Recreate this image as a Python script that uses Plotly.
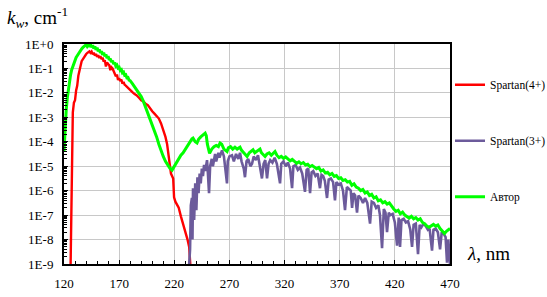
import plotly.graph_objects as go

# ---------------- data (log10 of k_w) ----------------
red_wl = [126, 126.5, 127, 127.5, 128, 129, 130, 131, 132, 133, 134, 135, 136, 137, 138, 139,
          140, 141, 142, 143, 144, 145, 146, 147, 148, 149, 150, 151, 152, 153, 154, 155,
          156, 157, 158, 159, 160, 161, 162, 163, 164, 165, 166, 167, 168, 169, 170, 171,
          172, 173, 174, 175, 176, 178, 180, 182, 184, 186, 188, 190, 192, 194, 196, 198,
          200, 202, 204, 206, 208, 210, 212, 213.5, 215, 217, 219, 219.8, 221, 224, 226, 229,
          232, 233.5, 234.5]
red_log = [-9.0, -7.5, -5.5, -3.8, -2.8, -2.4, -2.3, -1.9, -1.7, -1.3, -1.0, -0.9, -0.7, -0.62, -0.52, -0.47,
           -0.42, -0.37, -0.34, -0.3, -0.36, -0.31, -0.42, -0.36, -0.47, -0.41, -0.52, -0.46, -0.57, -0.5, -0.62, -0.56,
           -0.72, -0.66, -0.92, -0.76, -0.82, -0.86, -1.07, -0.95, -1.0, -1.1, -1.15, -1.32, -1.25, -1.47, -1.4, -1.52,
           -1.45, -1.62, -1.55, -1.67, -1.7, -1.8, -1.88, -1.97, -2.05, -2.1, -2.2, -2.3, -2.35, -2.45, -2.5, -2.65,
           -2.75, -2.85, -2.95, -3.05, -3.25, -3.5, -3.8, -4.1, -4.6, -5.3, -5.5, -6.27, -6.45, -6.7, -7.05, -7.5,
           -8.0, -8.3, -9.0]

purple_wl = [233.5, 234.3, 235, 236, 236.5, 237, 238, 239, 240, 241, 242, 243, 244, 245, 246, 247,
             248, 249.7, 250.5, 251.5, 252.5, 254, 255, 257, 258, 260, 261, 263.3, 265, 266, 267.8, 268.5,
             270, 272.3, 274, 276, 278, 279.6, 281, 283, 284.1, 285.5, 287, 289, 290.5, 292, 294, 295.9,
             297, 298, 299.5, 301, 302.5, 304.1, 305.5, 307, 309, 311, 313, 315.9, 317, 319, 321, 323,
             325, 326.8, 328, 330, 332, 334, 336, 338.5, 340, 341.5, 343.1, 344.5, 346, 348, 350, 352.1,
             353.5, 355, 356.5, 358.5, 360, 362, 364, 365.7, 367, 369, 371, 373, 374.8, 376.5, 378, 380,
             381.2, 382.5, 384, 385.7, 387, 389, 391.1, 393, 395, 397.5, 399, 401, 403, 405, 406.5, 408.4,
             410, 411.5, 412.9, 414.5, 416, 418, 420, 422, 423.5, 424.7, 426, 428, 430, 432, 434, 435.6,
             437, 439, 441, 442.5, 444, 446, 448, 450, 451.5, 453.7, 455, 457, 459, 461, 462.5, 464,
             466, 467.3, 468.5, 469.5, 470]
purple_log = [-9.0, -8.4, -6.6, -6.3, -8.0, -5.9, -7.2, -5.7, -6.8, -5.45, -6.1, -5.3, -5.7, -5.1, -5.4, -4.95,
              -5.2, -4.75, -5.3, -6.1, -5.0, -4.7, -5.0, -4.5, -4.8, -4.45, -4.65, -4.35, -4.6, -5.0, -5.7, -4.8,
              -4.6, -4.55, -4.8, -4.5, -4.7, -4.45, -4.8, -5.1, -5.45, -4.8, -4.7, -5.0, -4.9, -4.6, -4.75, -4.55,
              -4.8, -5.1, -5.5, -4.9, -4.75, -5.5, -4.9, -4.75, -4.85, -4.65, -4.9, -5.7, -4.9, -4.8, -5.0, -4.85,
              -5.1, -5.9, -5.0, -4.95, -5.15, -5.05, -5.3, -6.05, -5.15, -5.1, -6.1, -5.25, -5.2, -5.4, -5.3, -5.9,
              -5.35, -5.4, -5.6, -6.3, -5.55, -5.5, -5.65, -6.4, -5.65, -5.75, -5.7, -6.0, -6.8, -5.85, -5.9, -6.0,
              -6.7, -6.1, -6.2, -6.9, -6.2, -6.3, -6.5, -6.3, -6.5, -7.35, -6.45, -6.5, -6.7, -6.6, -7.0, -8.35,
              -6.75, -6.9, -7.7, -6.9, -7.0, -6.95, -7.3, -8.25, -7.1, -8.3, -7.2, -7.15, -7.3, -7.25, -7.6, -8.3,
              -7.4, -7.35, -8.6, -7.4, -7.5, -7.35, -7.45, -7.6, -7.55, -8.45, -7.6, -7.55, -7.7, -8.4, -7.7, -7.75,
              -7.9, -8.95, -8.0, -8.6, -9.0]

green_wl = [120, 121, 122, 123, 124, 125, 126, 127, 128, 129, 130, 131, 132, 133, 134, 135,
            136, 137, 138, 139, 140, 141, 142, 143, 144, 145, 146, 147, 148, 149, 150, 151,
            152, 153, 154, 155, 156, 157, 158, 159, 160, 161, 162, 163, 164, 165, 166, 167,
            168, 169, 170, 171, 172, 173, 174, 175, 176, 177, 178, 179, 180, 182, 184, 186,
            188, 190, 192, 194, 196, 198, 200, 202, 204, 206, 208, 210, 212, 214, 216, 218,
            220, 222, 224, 226, 228, 230, 232, 234, 236, 237, 239, 240.6, 242, 244, 246, 248,
            249, 250, 252, 254, 256, 258, 260, 261.5, 263, 265, 267.8, 269, 271, 273, 275, 277,
            279.6, 281, 283, 286, 288, 290, 291.4, 293, 295, 297.7, 299, 301, 302.3, 304, 306, 308,
            310, 311.3, 313, 315, 317, 319, 321, 323, 325, 327, 329, 331, 333, 335, 337, 339,
            341, 343, 345, 347, 349, 351, 353, 355, 357, 359, 361, 363, 365, 367, 369, 371,
            373, 375, 377, 379, 381, 383, 385, 387, 389, 391, 393, 395, 397, 399, 401, 403,
            405, 407, 409, 411, 413, 415, 417, 419, 421, 423, 425, 427, 429, 431, 433, 435,
            437, 439, 441, 443, 445, 447, 449, 451, 453, 455, 457, 459, 461, 463, 465, 467,
            469, 470]
green_log = [-4.4, -3.4, -2.7, -2.2, -1.8, -1.5, -1.25, -1.05, -0.9, -0.78, -0.65, -0.55, -0.48, -0.4, -0.32, -0.27,
             -0.2, -0.15, -0.1, -0.06, -0.03, -0.1, -0.03, -0.12, -0.03, -0.13, -0.05, -0.18, -0.1, -0.24, -0.15, -0.3,
             -0.22, -0.36, -0.3, -0.44, -0.36, -0.5, -0.43, -0.58, -0.5, -0.65, -0.6, -0.74, -0.68, -0.82, -0.76, -0.9,
             -0.86, -0.98, -0.95, -1.08, -1.05, -1.18, -1.15, -1.28, -1.26, -1.38, -1.37, -1.48, -1.5, -1.62, -1.75, -1.88,
             -2.0, -2.15, -2.35, -2.58, -2.8, -3.05, -3.3, -3.55, -3.8, -4.1, -4.4, -4.6, -4.8, -4.95, -5.08, -5.16,
             -5.0, -4.85, -4.7, -4.55, -4.45, -4.3, -4.15, -4.0, -3.88, -3.85, -4.0, -4.05, -3.9, -3.8, -3.72, -3.65,
             -3.75, -4.1, -4.47, -4.3, -4.2, -4.15, -4.2, -4.05, -4.1, -4.3, -4.4, -4.25, -4.2, -4.3, -4.22, -4.3,
             -4.22, -4.35, -4.45, -4.6, -4.45, -4.38, -4.33, -4.45, -4.38, -4.3, -4.45, -4.55, -4.6, -4.5, -4.45, -4.55,
             -4.45, -4.4, -4.55, -4.65, -4.6, -4.68, -4.62, -4.7, -4.78, -4.72, -4.8, -4.88, -4.82, -4.9, -4.85, -4.95,
             -4.92, -5.02, -4.97, -5.05, -5.1, -5.05, -5.2, -5.15, -5.28, -5.25, -5.35, -5.3, -5.42, -5.38, -5.5, -5.47,
             -5.58, -5.55, -5.65, -5.62, -5.78, -5.72, -5.85, -5.9, -6.0, -5.95, -6.1, -6.05, -6.2, -6.15, -6.3, -6.25,
             -6.42, -6.38, -6.5, -6.45, -6.55, -6.5, -6.65, -6.75, -6.85, -6.8, -6.95, -6.88, -7.0, -7.05, -7.12, -7.05,
             -7.15, -7.1, -7.2, -7.15, -7.3, -7.35, -7.45, -7.5, -7.42, -7.38, -7.45, -7.4, -7.55, -7.65, -7.75, -7.65,
             -7.6, -7.55]

series_names = ["Spartan(4+)", "Spartan(3+)", "Автор"]
series_colors = ["#FF0000", "#6C5B9B", "#00FF00"]

x_tick_vals = [120, 170, 220, 270, 320, 370, 420, 470]
y_tick_vals = [1e0, 1e-1, 1e-2, 1e-3, 1e-4, 1e-5, 1e-6, 1e-7, 1e-8, 1e-9]
y_tick_text = ["1E+0", "1E-1", "1E-2", "1E-3", "1E-4", "1E-5", "1E-6", "1E-7", "1E-8", "1E-9"]

# ---------------- figure ----------------
FONT = "Liberation Serif"

def lin(vals):
    return [10 ** v for v in vals]

fig = go.Figure()
widths = [2.4, 2.6, 3.0]
for (wl, lg), name, color, w in zip([(red_wl, red_log), (purple_wl, purple_log), (green_wl, green_log)],
                                    series_names, series_colors, widths):
    fig.add_trace(go.Scatter(x=wl, y=lin(lg), mode="lines", name=name, legendgroup=name,
                             line=dict(color=color, width=w)))

fig.update_layout(
    width=547, height=297,
    margin=dict(l=64, r=97, t=44, b=33, autoexpand=False),
    paper_bgcolor="white", plot_bgcolor="white",
    font=dict(family=FONT, color="black", size=13),
    showlegend=True,
    legend=dict(x=1.0, xanchor="left", y=0.56, yanchor="middle",
                font=dict(family=FONT, size=11.5, color="black"),
                tracegroupgap=37, itemwidth=30, bgcolor="rgba(0,0,0,0)"),
    xaxis=dict(range=[120, 470], tickvals=x_tick_vals, ticks="inside", ticklen=4,
               tickcolor="black", showgrid=True, gridcolor="#C8C8C8", gridwidth=1,
               showline=True, linecolor="black", linewidth=2, mirror=True, automargin=False,
               zeroline=False, tickfont=dict(family=FONT, size=13), ticklabelstandoff=6,
               minor=dict(dtick=10, ticks="inside", ticklen=3, tickcolor="black", showgrid=False)),
    yaxis=dict(type="log", range=[-9, 0], tickvals=y_tick_vals, ticktext=y_tick_text,
               ticks="inside", ticklen=4, tickcolor="black", automargin=False,
               showgrid=True, gridcolor="#C8C8C8", gridwidth=1,
               showline=True, linecolor="black", linewidth=2, mirror=True,
               zeroline=False, tickfont=dict(family=FONT, size=13), ticklabelstandoff=6,
               minor=dict(dtick="D1", ticks="inside", ticklen=3, tickcolor="black", showgrid=False)),
)

fig.add_annotation(text="<i>k<sub>w</sub></i>, cm<sup>-1</sup>", xref="paper", yref="paper",
                   x=-0.152, y=1.19, xanchor="left", yanchor="top", showarrow=False,
                   font=dict(family=FONT, size=19, color="black"))
fig.add_annotation(text="<i>λ</i>, nm", xref="paper", yref="paper",
                   x=1.04, y=-0.01, xanchor="left", yanchor="bottom", showarrow=False,
                   font=dict(family=FONT, size=19, color="black"))

fig.write_html("out.html", config={"displayModeBar": False},
               post_script="document.body.style.margin='0';document.body.style.padding='0';")
